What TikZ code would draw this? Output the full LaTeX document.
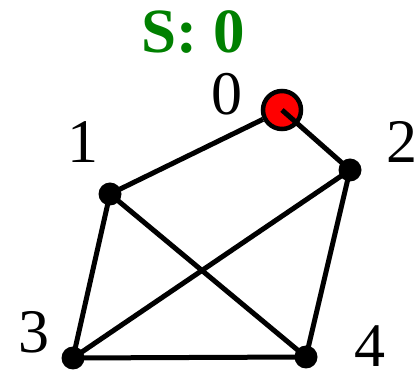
\documentclass[tikz,border=0pt]{standalone}
\usepackage{fontspec}
\setmainfont{Liberation Serif}
\definecolor{sgreen}{RGB}{0,128,0}
\begin{document}
\begin{tikzpicture}[x=1pt,y=1pt,
  dot/.style={circle,fill=black,inner sep=0pt,minimum size=23pt},
  src/.style={circle,fill=red,draw=black,line width=4.5pt,inner sep=0pt,minimum size=38pt},
  lbl/.style={inner sep=0pt,anchor=base,text depth=0pt,font=\fontsize{62}{62}\selectfont},
  edge/.style={line width=5pt}]
\useasboundingbox (0,0) rectangle (418,372);
\node[lbl,text=sgreen,font=\fontsize{63}{63}\selectfont\bfseries] (title) at (193.5,319.5) {S: 0};
\node[src] (n0) at (282,262) {};
\node[dot] (n1) at (110,178) {};
\node[dot] (n2) at (350,202) {};
\node[dot] (n3) at (73,14) {};
\node[dot] (n4) at (306,15) {};
\node[lbl] (l0) at (227,257) {0};
\node[lbl] (l1) at (83,209) {1};
\node[lbl] (l2) at (402,209) {2};
\node[lbl] (l3) at (34,19) {3};
\node[lbl] (l4) at (370,5) {4};
\draw[edge] (n0) -- (n1.center);
\draw[edge] (n1.center) -- (n3.center);
\draw[edge] (n1.center) -- (n4.center);
\draw[edge] (n2.center) -- (n3.center);
\draw[edge] (n2.center) -- (n4.center);
\draw[edge] (n3.center) -- (n4.center);
\draw[edge] (n0.center) -- (n2.center);
\end{tikzpicture}
\end{document}
